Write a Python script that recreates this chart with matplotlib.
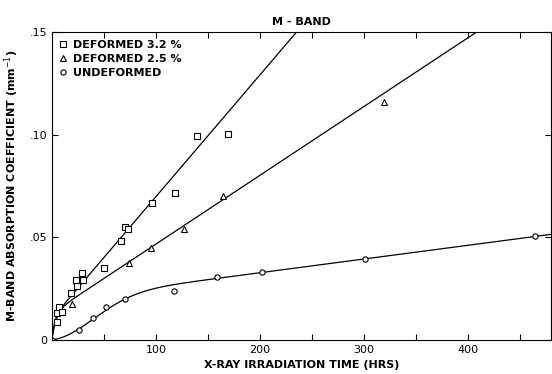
import numpy as np
import matplotlib
matplotlib.use("Agg")
import matplotlib.pyplot as plt

# data (hours, absorption coefficient mm^-1)
sq_x = [4.5, 4.5, 6.7, 9.3, 18.3, 23.7, 23, 28.5, 30.4, 50.3, 66, 70, 73, 96, 118, 140, 169.5]
sq_y = [0.0089, 0.0133, 0.0162, 0.0136, 0.0231, 0.0264, 0.0294, 0.0327, 0.0293, 0.0353,
        0.048, 0.055, 0.054, 0.0668, 0.0717, 0.0994, 0.1003]
tri_x = [19.5, 73.7, 95, 127, 165, 319.5]
tri_y = [0.0175, 0.0377, 0.0448, 0.054, 0.0704, 0.1162]
circ_x = [0, 26.3, 39.7, 51.6, 70.2, 117.6, 159, 202, 301, 465]
circ_y = [0, 0.005, 0.0107, 0.0159, 0.0202, 0.0239, 0.0309, 0.0329, 0.0395, 0.0505]

# fitted curve parameters
sq_fit = (0.0105, 0.000593, 2.5)     # offset, slope, rise time
tri_fit = (0.0132, 0.000335, 4.0)
circ_fit = (0.0194, 0.0000668, 56.7)  # step, slope, width

plt.rcParams['font.family'] = ['DejaVu Sans']
fig = plt.figure(figsize=(5.52, 3.74), dpi=100)
ax = fig.add_axes([0.094, 0.091, 0.904, 0.823])

x = np.linspace(0, 480, 1000)
for a, b, tau in [sq_fit, tri_fit]:
    ax.plot(x, a + b * x - a * np.exp(-x / tau), color='black', lw=0.9)
A, c, t = circ_fit
ax.plot(x, c * x + A * (1 - np.exp(-(x / t) ** 2)), color='black', lw=0.9)

ax.plot(sq_x, sq_y, 's', ms=4.5, mfc='white', mec='black', mew=0.8, label='DEFORMED 3.2 %')
ax.plot(tri_x, tri_y, '^', ms=4.5, mfc='white', mec='black', mew=0.8, label='DEFORMED 2.5 %')
ax.plot(circ_x, circ_y, 'o', ms=3.8, mfc='white', mec='black', mew=0.8, label='UNDEFORMED')

ax.set_xlim(0, 480)
ax.set_ylim(0, 0.15)
ax.set_xticks([100, 200, 300, 400])
ax.set_xticks([50, 150, 250, 350, 450], minor=True)
ax.set_yticks([0, 0.05, 0.10, 0.15])
ax.set_yticklabels(['0', '.05', '.10', '.15'])
ax.tick_params(direction='in', top=True, right=True, labelsize=8, length=4, width=0.8)
ax.tick_params(which='minor', direction='in', top=True, length=4, width=0.8)
for s in ax.spines.values():
    s.set_linewidth(0.8)

ax.set_xlabel('X-RAY IRRADIATION TIME (HRS)', fontsize=8, fontweight='bold', labelpad=4)
ax.set_ylabel('M-BAND ABSORPTION COEFFICIENT (mm$^{-1}$)', fontsize=8, fontweight='bold', labelpad=6)
ax.set_title('M - BAND', fontsize=8, fontweight='bold', pad=5)

leg = ax.legend(loc='upper left', frameon=False, fontsize=8, handlelength=0.6,
                handletextpad=0.6, labelspacing=0.35, borderaxespad=0.3)
for txt in leg.get_texts():
    txt.set_fontweight('bold')

fig.savefig('out.png', dpi=100)
